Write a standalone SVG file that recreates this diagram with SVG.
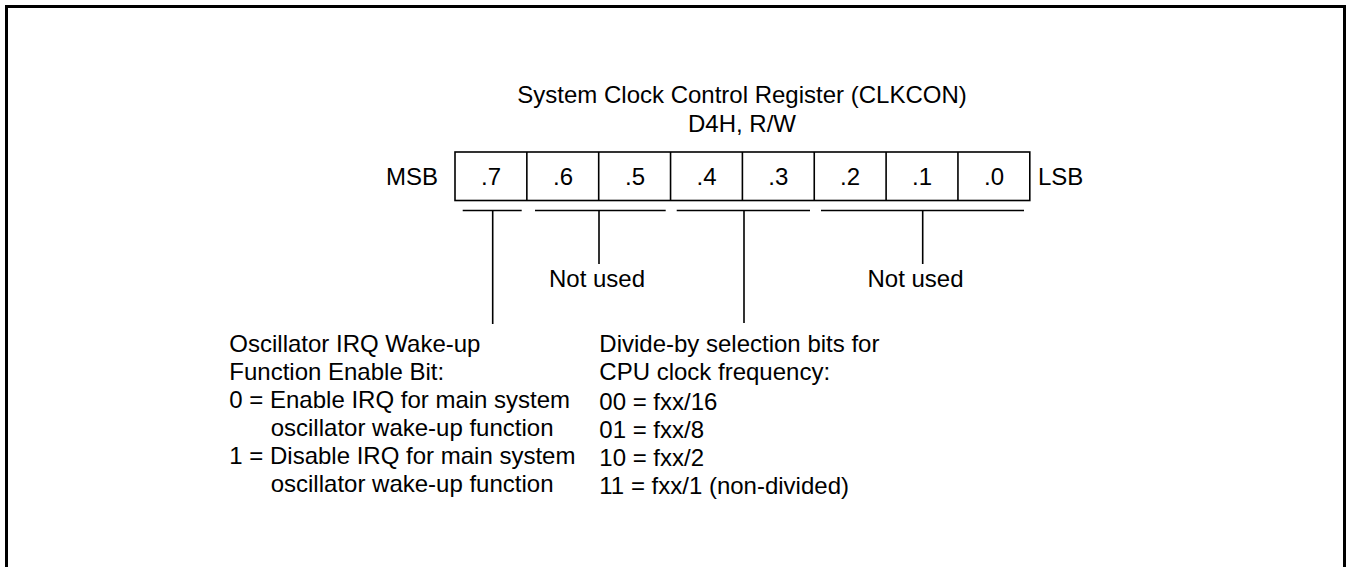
<svg xmlns="http://www.w3.org/2000/svg" width="1349" height="567" viewBox="0 0 1349 567">
<style>
text{font-family:"Liberation Sans",Arial,sans-serif;font-size:24px;fill:#000}
.c{text-anchor:middle}
.e{text-anchor:end}
.ln{stroke:#000;stroke-width:1.6;fill:none}
</style>
<rect x="0" y="0" width="1349" height="567" fill="#fff"/>
<rect x="6.5" y="6.5" width="1338" height="600" fill="none" stroke="#000" stroke-width="3"/>
<g id="title">
<text class="c" x="742" y="103">System Clock Control Register (CLKCON)</text>
<text class="c" x="742" y="132">D4H, R/W</text>
</g>
<g id="register">
<text class="e" x="438" y="185">MSB</text>
<rect class="ln" x="455" y="152" width="574.8" height="48.5"/>
<path class="ln" d="M526.85 152V200.5M598.7 152V200.5M670.55 152V200.5M742.4 152V200.5M814.25 152V200.5M886.1 152V200.5M957.95 152V200.5"/>
<text class="c" x="491" y="185">.7</text>
<text class="c" x="563" y="185">.6</text>
<text class="c" x="635" y="185">.5</text>
<text class="c" x="706.5" y="185">.4</text>
<text class="c" x="778.3" y="185">.3</text>
<text class="c" x="850" y="185">.2</text>
<text class="c" x="922" y="185">.1</text>
<text class="c" x="994" y="185">.0</text>
<text x="1038" y="185">LSB</text>
</g>
<g id="connectors">
<path class="ln" d="M462.7 210.5H521.7M492.7 210.5V324"/>
<path class="ln" d="M535 210.5H665.7M599 210.5V264"/>
<path class="ln" d="M676.7 210.5H810M744 210.5V323"/>
<path class="ln" d="M821 210.5H1024M922.7 210.5V264"/>
</g>
<g id="notused1"><text class="c" x="597" y="287">Not used</text></g>
<g id="notused2"><text class="c" x="915.5" y="287">Not used</text></g>
<g id="bit7desc">
<text x="229.3" y="352">Oscillator IRQ Wake-up</text>
<text x="229.3" y="380">Function Enable Bit:</text>
<text x="229.3" y="408">0 = Enable IRQ for main system</text>
<text x="270.7" y="436">oscillator wake-up function</text>
<text x="229.3" y="464">1 = Disable IRQ for main system</text>
<text x="270.7" y="492">oscillator wake-up function</text>
</g>
<g id="bits43desc">
<text x="599.3" y="352">Divide-by selection bits for</text>
<text x="599.3" y="380">CPU clock frequency:</text>
<text x="599.3" y="410">00 = fxx/16</text>
<text x="599.3" y="438">01 = fxx/8</text>
<text x="599.3" y="466">10 = fxx/2</text>
<text x="599.3" y="494">11 = fxx/1 (non-divided)</text>
</g>
</svg>
